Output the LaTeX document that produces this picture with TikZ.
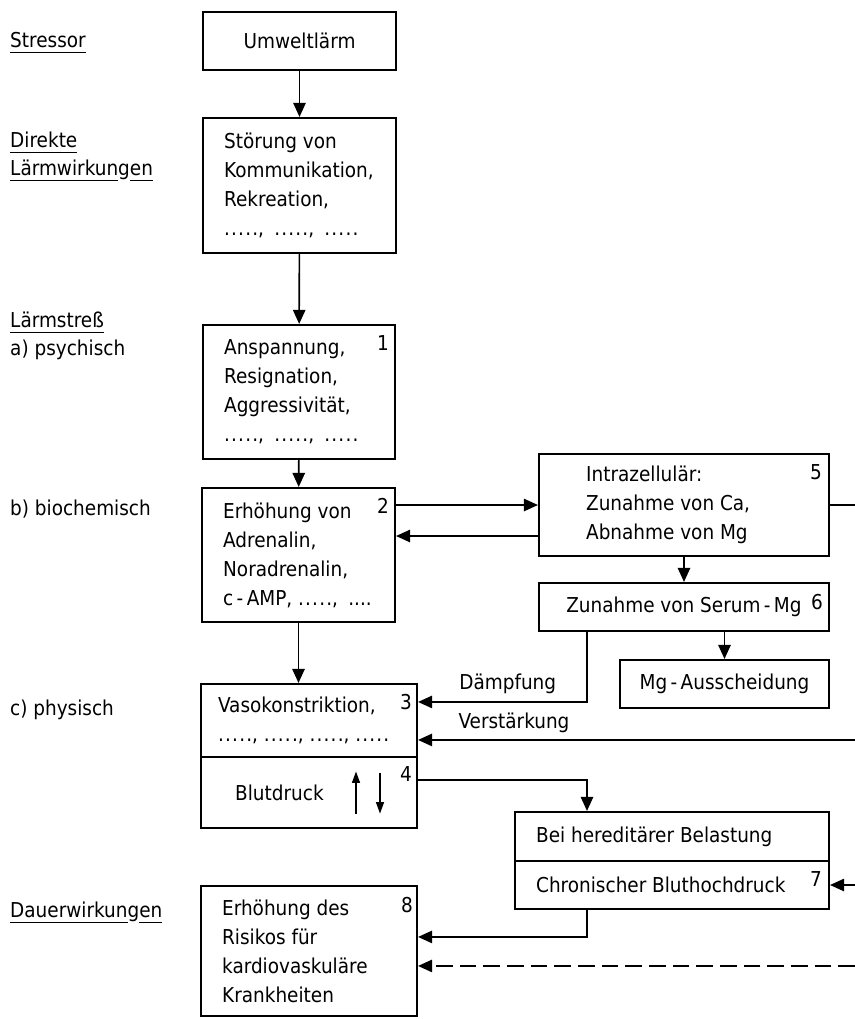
\documentclass[tikz,border=0pt]{standalone}
\usepackage{fontspec}
\setmainfont{DejaVu Sans Condensed}
\usetikzlibrary{arrows.meta,positioning,calc}
\newcommand\schrift{\fontsize{17.5pt}{24.75pt}\selectfont}
\newsavebox\strichbox
\newcommand\strich[1]{\sbox\strichbox{#1}\rlap{\rule[-4.9pt]{\wd\strichbox}{1.3pt}}\usebox\strichbox}
\newcommand\fuenf{.\kern1pt.\kern1pt.\kern1pt.\kern1pt.}

\begin{document}
\begin{tikzpicture}[x=0.3mm, y=-0.3mm, font=\schrift,
  box/.style={draw, line width=1.8pt, inner sep=0pt},
  txt/.style={inner sep=0pt, align=left},
  lbl/.style={inner sep=0pt, anchor=base west},
  nr/.style={inner sep=0pt},
  arr/.style={-{Triangle[length=4.2mm, width=3.7mm]}, line width=1.35pt},
  lin/.style={line width=1.35pt},
  klein/.style={-{Triangle[length=3.4mm, width=2.4mm]}, line width=1pt},
  gestr/.style={dash pattern=on 5mm off 2.1mm}]
\useasboundingbox (0,0) rectangle (855,1019);
% Ebenen links
\node[lbl] (lStr)  at (10,47.5)  {\strich{Stressor}};
\node[lbl] (lDir)  at (10,147.5) {\strich{Direkte}};
\node[lbl] (lLw)   at (10,175.5) {\strich{Lärmwirkun}g\strich{en}};
\node[lbl] (lLs)   at (10,327.5) {\strich{Lärmstreß}};
\node[lbl] (lPsy)  at (10,355)   {a) psychisch};
\node[lbl] (lBio)  at (10,515.5) {b) biochemisch};
\node[lbl] (lPhy)  at (10,715.5) {c) physisch};
\node[lbl] (lDau)  at (10,917.5) {\strich{Dauerwirkun}g\strich{en}};
% Kästen Mitte
\node[box, minimum width=57.9mm, minimum height=17.4mm] (b0) at (299.5,41)    {Umweltlärm};
\node[box, minimum width=57.9mm, minimum height=40.5mm] (bs) at (299.5,185.5) {};
\node[box, minimum width=57.6mm, minimum height=40.2mm] (b1) at (299,392)     {};
\node[box, minimum width=57.9mm, minimum height=40.2mm] (b2) at (298.5,555)   {};
\node[box, minimum width=64.8mm, minimum height=21.9mm] (b3) at (309,720.5)   {};
\node[box, minimum width=64.8mm, minimum height=21.3mm] (b4) at (309,792.5)   {};
\node[box, minimum width=64.8mm, minimum height=39mm]   (b8) at (309,951)     {};
% Kästen rechts
\node[box, minimum width=87mm,   minimum height=30.6mm] (b5)  at (684,505)   {};
\node[box, minimum width=87mm,   minimum height=14.4mm] (b6)  at (684,607)   {Zunahme von Serum\,-\,Mg};
\node[box, minimum width=62.7mm, minimum height=14.4mm] (bmg) at (724.5,684) {Mg\,-\,Ausscheidung};
\node[box, minimum width=94.2mm, minimum height=14.7mm] (b7a) at (672,836.5) {};
\node[box, minimum width=94.2mm, minimum height=14.4mm] (b7)  at (672,885)   {};
% Texte
\node[txt, right=6.6mm of bs.west]  (tS)  {Störung von\\Kommunikation,\\Rekreation,\\\fuenf,\enspace\fuenf,\enspace\fuenf};
\node[txt, right=6.6mm of b1.west]  (t1)  {Anspannung,\\Resignation,\\Aggressivität,\\\fuenf,\enspace\fuenf,\enspace\fuenf};
\node[txt, right=6.6mm of b2.west]  (t2)  {Erhöhung von\\Adrenalin,\\Noradrenalin,\\c\,-\,AMP, \fuenf,\enspace....};
\node[txt, right=5.4mm of b3.west]  (t3)  {Vasokonstriktion,\\\fuenf,\ \fuenf,\ \fuenf,\ \fuenf};
\node[txt, right=10.5mm of b4.west] (t4)  {Blutdruck};
\node[txt, right=6.6mm of b8.west]  (t8)  {Erhöhung des\\Risikos für\\kardiovaskuläre\\Krankheiten};
\node[txt, right=14.4mm of b5.west] (t5)  {Intrazellulär:\\Zunahme von Ca,\\Abnahme von Mg};
\node[txt, right=6.6mm of b7a.west] (t7a) {Bei hereditärer Belastung};
\node[txt, right=6.6mm of b7.west]  (t7)  {Chronischer Bluthochdruck};
% Nummern
\node[nr] (n1) at ($(b1.north east)+(-13,19)$) {1};
\node[nr] (n2) at ($(b2.north east)+(-13,19)$) {2};
\node[nr] (n3) at ($(b3.north east)+(-12,19)$) {3};
\node[nr] (n4) at ($(b4.north east)+(-12,18)$) {4};
\node[nr] (n5) at ($(b5.north east)+(-14,19)$) {5};
\node[nr] (n6) at ($(b6.north east)+(-13,20)$) {6};
\node[nr] (n7) at ($(b7.north east)+(-14,19)$) {7};
\node[nr] (n8) at ($(b8.north east)+(-11,20)$) {8};
% Pfeile im Blutdruck-Kasten
\draw[klein] ($(b4)+(47,21)$) -- ($(b4)+(47,-21)$);
\draw[klein] ($(b4)+(71,-20)$) -- ($(b4)+(71,21)$);
% Hilfspunkte
\coordinate (rand)    at (855,0);
\coordinate (spalte)  at (587,0);
\coordinate (zurueck) at ($(b5.west)+(0,31)$);
\coordinate (daempf)  at ($(b3.north east)+(0,19)$);
\coordinate (verst)   at ($(b3.north east)+(0,57)$);
\coordinate (bd)      at ($(b4.north east)+(0,24)$);
\coordinate (chron)   at ($(b8.north east)+(0,52)$);
\coordinate (risiko)  at ($(b8.north east)+(0,81)$);
% Verbindungen
\draw[arr] (b0) -- (bs);
\draw[arr] (bs) -- (b1);
\draw[arr] (b1) -- (b2);
\draw[arr] (b2) -- (b2 |- b3.north);
\draw[arr] (b2.east |- b5) -- (b5);
\draw[arr] (zurueck) -- (zurueck -| b2.east);
\draw[lin] (b5) -- (b5 -| rand);
\draw[arr] (b5) -- (b6);
\draw[arr] (bmg |- b6.south) -- (bmg);
\draw[arr] (spalte |- b6.south) |- (daempf)
  node[pos=0.88, anchor=base west, inner sep=0pt, yshift=3.75mm] (lDae) {Dämpfung};
\draw[arr] (rand |- verst) -- (verst)
  node[pos=0.909, anchor=base west, inner sep=0pt, yshift=3.3mm] (lVer) {Verstärkung};
\draw[arr] (bd) -| (spalte |- b7a.north);
\draw[arr] (rand |- b7) -- (b7);
\draw[arr] (spalte |- b7.south) |- (chron);
\draw[arr, gestr] (rand |- risiko) -- (risiko);
\end{tikzpicture}
\end{document}
